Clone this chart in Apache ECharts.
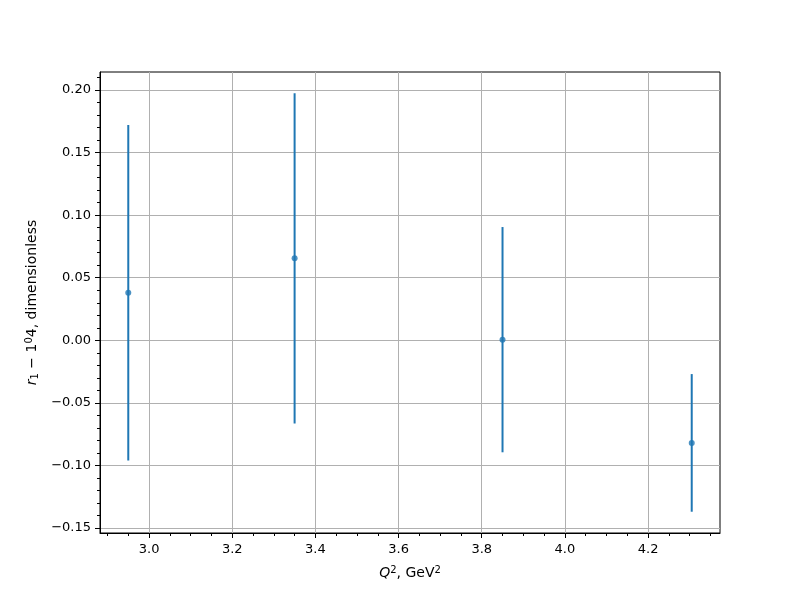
<!DOCTYPE html>
<html><head><meta charset="utf-8">
<script src="https://cdn.jsdelivr.net/npm/echarts@6/dist/echarts.min.js"></script>
<style>html,body{margin:0;padding:0;background:#fff}#c{width:800px;height:600px}</style>
</head><body><div id="c"></div>
<script>
const xValues = [2.95, 3.35, 3.85, 4.305];
const yValues = [0.038, 0.0655, 0.0005, -0.082];
const yErrors = [0.134, 0.132, 0.090, 0.055];
const xTicks = [3.0, 3.2, 3.4, 3.6, 3.8, 4.0, 4.2];
const yTicks = [-0.15, -0.10, -0.05, 0.00, 0.05, 0.10, 0.15, 0.20];

const xMin = 2.882, xMax = 4.373, yMin = -0.154, yMax = 0.2144;
const xMinor = [], yMinor = [];
for (let v = 2.9; v <= xMax + 1e-9; v += 0.05) xMinor.push(+v.toFixed(2));
for (let v = -0.15; v <= yMax + 1e-9; v += 0.01) yMinor.push(+v.toFixed(2));

const font = 'DejaVu Sans';
const fmtY = v => (v < 0 ? '\u2212' : '') + Math.abs(v).toFixed(2);
const blue = '#1f77b4';

const chart = echarts.init(document.getElementById('c'), null, {renderer: 'canvas'});
chart.setOption({
  animation: false,
  grid: {left: 100, right: 80, top: 72, bottom: 67, show: true, borderColor: '#000', borderWidth: 1, containLabel: false},
  xAxis: [{
    type: 'value', min: xMin, max: xMax,
    axisLine: {show: true, onZero: false, lineStyle: {color: '#000', width: 1}},
    axisTick: {show: true, customValues: xTicks, length: 5, lineStyle: {color: '#000'}},
    axisLabel: {customValues: xTicks, formatter: v => v.toFixed(1), color: '#000', fontFamily: font, fontSize: 13, margin: 10},
    splitLine: {show: true, lineStyle: {color: '#b0b0b0', width: 1}},
    name: '{i|Q}{s|2}{n|, GeV}{s|2}', nameLocation: 'middle', nameGap: 32,
    nameTextStyle: {rich: {
      i: {fontFamily: font, fontSize: 14, fontStyle: 'italic', color: '#000'},
      n: {fontFamily: font, fontSize: 14, color: '#000'},
      s: {fontFamily: font, fontSize: 10, color: '#000', verticalAlign: 'top', padding: [0,0,6,0]}
    }}
  }, {
    type: 'value', min: xMin, max: xMax, position: 'bottom',
    axisLine: {show: false, onZero: false},
    axisTick: {show: true, customValues: xMinor, length: 3, lineStyle: {color: '#000'}},
    axisLabel: {show: false}, splitLine: {show: false}
  }],
  yAxis: [{
    type: 'value', min: yMin, max: yMax,
    axisLine: {show: true, onZero: false, lineStyle: {color: '#000', width: 1}},
    axisTick: {show: true, customValues: yTicks, length: 5, lineStyle: {color: '#000'}},
    axisLabel: {customValues: yTicks, formatter: fmtY, color: '#000', fontFamily: font, fontSize: 13, margin: 9},
    splitLine: {show: true, lineStyle: {color: '#b0b0b0', width: 1}},
    name: '{i|r}{sb|1}{n| \u2212 1}{s|0}{n|4, dimensionless}', nameLocation: 'middle', nameGap: 58, nameRotate: 90,
    nameTextStyle: {rich: {
      i: {fontFamily: font, fontSize: 14, fontStyle: 'italic', color: '#000'},
      n: {fontFamily: font, fontSize: 14, color: '#000'},
      s: {fontFamily: font, fontSize: 10, color: '#000', verticalAlign: 'top', padding: [0,0,6,0]},
      sb: {fontFamily: font, fontSize: 10, color: '#000', verticalAlign: 'bottom', padding: [6,0,0,0]}
    }}
  }, {
    type: 'value', min: yMin, max: yMax, position: 'left',
    axisLine: {show: false, onZero: false},
    axisTick: {show: true, customValues: yMinor, length: 3, lineStyle: {color: '#000'}},
    axisLabel: {show: false}, splitLine: {show: false}
  }],
  series: [{
    type: 'custom', xAxisIndex: 0, yAxisIndex: 0,
    data: xValues.map((x, i) => [x, yValues[i] - yErrors[i], yValues[i] + yErrors[i]]),
    renderItem: (params, api) => {
      const lo = api.coord([api.value(0), api.value(1)]);
      const hi = api.coord([api.value(0), api.value(2)]);
      return {type: 'line', shape: {x1: lo[0], y1: lo[1], x2: hi[0], y2: hi[1]}, style: {stroke: blue, lineWidth: 2}};
    }, z: 3
  }, {
    type: 'scatter', xAxisIndex: 0, yAxisIndex: 0, symbol: 'circle', symbolSize: 6,
    itemStyle: {color: blue}, data: xValues.map((x, i) => [x, yValues[i]]), z: 4
  }]
});
</script></body></html>
